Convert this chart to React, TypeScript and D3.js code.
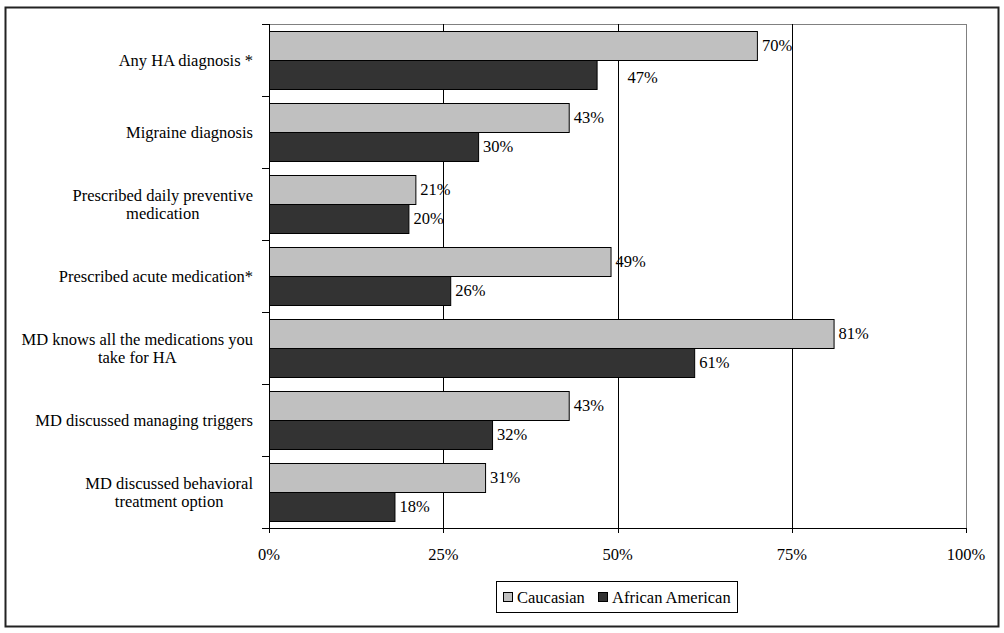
import React, { useEffect, useRef } from "react";
import * as d3 from "d3";

const categories: string[][] = [
  ["Any HA diagnosis *"],
  ["Migraine diagnosis"],
  ["Prescribed daily preventive", "medication"],
  ["Prescribed acute medication*"],
  ["MD knows all the medications you", "take for HA"],
  ["MD discussed managing triggers"],
  ["MD discussed behavioral", "treatment option"],
];
const caucasian = [70, 43, 21, 49, 81, 43, 31];
const africanAmerican = [47, 30, 20, 26, 61, 32, 18];
const seriesNames = ["Caucasian", "African American"];
const xTicks = [0, 25, 50, 75, 100];

const W = 1004;
const H = 633;
const FONT = "'Liberation Serif', 'Times New Roman', serif";
const FS = 16.5;

export default function App() {
  const ref = useRef<SVGSVGElement>(null);

  useEffect(() => {
    const svg = d3.select(ref.current);
    svg.selectAll("*").remove();

    const left = 269, right = 966, top = 24, bottom = 528;
    const x = d3.scaleLinear().domain([0, 100]).range([left, right]);
    const y = d3.scaleBand<number>().domain(d3.range(categories.length)).range([top, bottom]);
    const inner = d3.scaleBand<number>().domain([0, 1]).range([7, y.bandwidth() - 7]);

    svg.append("rect").attr("x", 0).attr("y", 0).attr("width", W).attr("height", H).attr("fill", "#fff");
    // outer frame
    svg.append("rect").attr("x", 5.5).attr("y", 7.5).attr("width", 993).attr("height", 619)
      .attr("fill", "none").attr("stroke", "#222").attr("stroke-width", 2);

    // plot border top/right (gray)
    svg.append("line").attr("x1", left).attr("x2", right).attr("y1", top + 0.5).attr("y2", top + 0.5)
      .attr("stroke", "#808080").attr("stroke-width", 1);
    svg.append("line").attr("x1", right + 0.5).attr("x2", right + 0.5).attr("y1", top).attr("y2", bottom)
      .attr("stroke", "#808080").attr("stroke-width", 1);

    // gridlines
    [25, 50, 75].forEach((t) => {
      svg.append("line").attr("x1", Math.round(x(t)) + 0.5).attr("x2", Math.round(x(t)) + 0.5)
        .attr("y1", top).attr("y2", bottom).attr("stroke", "#000").attr("stroke-width", 1);
    });

    // bars
    const series = [caucasian, africanAmerican];
    const fills = ["#c0c0c0", "#333333"];
    series.forEach((vals, s) => {
      svg.append("g").selectAll("rect").data(vals).join("rect")
        .attr("x", left + 0.5)
        .attr("y", (_d, i) => (y(i) as number) + (inner(s) as number) + 0.5)
        .attr("width", (d) => x(d) - left)
        .attr("height", inner.bandwidth())
        .attr("fill", fills[s])
        .attr("stroke", "#000")
        .attr("stroke-width", 1);
    });

    // value labels
    series.forEach((vals, s) => {
      svg.append("g").selectAll("text").data(vals).join("text")
        .attr("x", (d, i) => x(d) + 5 + (s === 1 && i === 0 ? 26 : 0))
        .attr("y", (_d, i) => (y(i) as number) + (inner(s) as number) + inner.bandwidth() / 2 + (s === 1 && i === 0 ? 3 : 0))
        .attr("dy", "0.35em")
        .attr("font-family", FONT).attr("font-size", FS).attr("fill", "#000")
        .text((d) => `${d}%`);
    });

    // axes
    svg.append("line").attr("x1", left + 0.5).attr("x2", left + 0.5).attr("y1", top).attr("y2", bottom + 5)
      .attr("stroke", "#000");
    svg.append("line").attr("x1", left - 7).attr("x2", right + 1).attr("y1", bottom + 0.5).attr("y2", bottom + 0.5)
      .attr("stroke", "#000");
    d3.range(categories.length + 1).forEach((i) => {
      const yy = top + i * y.step();
      svg.append("line").attr("x1", left - 7).attr("x2", left).attr("y1", Math.round(yy) + 0.5).attr("y2", Math.round(yy) + 0.5)
        .attr("stroke", "#000");
    });
    xTicks.forEach((t) => {
      const xx = Math.round(x(t)) + 0.5;
      svg.append("line").attr("x1", xx).attr("x2", xx).attr("y1", bottom).attr("y2", bottom + 5).attr("stroke", "#000");
      svg.append("text").attr("x", x(t)).attr("y", 560).attr("text-anchor", "middle")
        .attr("font-family", FONT).attr("font-size", FS).text(`${t}%`);
    });

    // category labels
    categories.forEach((lines, i) => {
      const cy = (y(i) as number) + y.bandwidth() / 2;
      const g = svg.append("g");
      const texts = lines.map((ln, k) =>
        g.append("text")
          .attr("y", cy + (k - (lines.length - 1) / 2) * 18)
          .attr("dy", "0.35em")
          .attr("text-anchor", "middle")
          .attr("font-family", FONT).attr("font-size", FS).text(ln)
      );
      const widths = texts.map((t) => (t.node() as SVGTextElement).getComputedTextLength());
      const maxW = Math.max(...widths);
      const center = 253 - maxW / 2;
      texts.forEach((t) => t.attr("x", center));
    });

    // legend
    const lg = svg.append("g");
    lg.append("rect").attr("x", 496.5).attr("y", 581.5).attr("width", 241).attr("height", 31)
      .attr("fill", "#fff").attr("stroke", "#000");
    const legX = [503, 598];
    seriesNames.forEach((n, s) => {
      lg.append("rect").attr("x", legX[s] + 0.5).attr("y", 592.5).attr("width", 9).attr("height", 9)
        .attr("fill", fills[s]).attr("stroke", "#000");
      lg.append("text").attr("x", legX[s] + 14).attr("y", 597).attr("dy", "0.35em")
        .attr("font-family", FONT).attr("font-size", FS).text(n);
    });
  }, []);

  return (
    <svg ref={ref} width={W} height={H} style={{ position: "absolute", left: 0, top: 0, display: "block" }} />
  );
}
